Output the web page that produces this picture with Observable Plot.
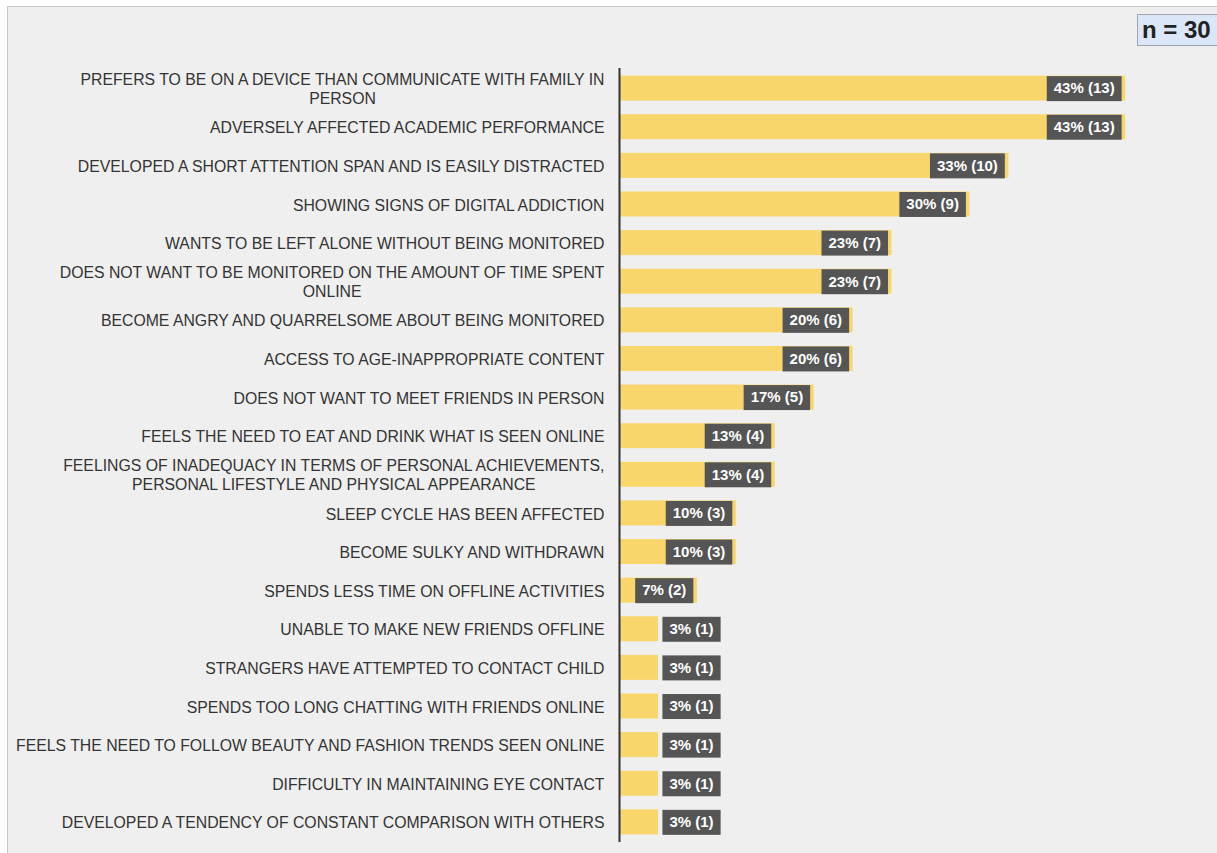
<!DOCTYPE html>
<html><head><meta charset="utf-8">
<script src="https://cdn.jsdelivr.net/npm/d3@7"></script>
<script src="https://cdn.jsdelivr.net/npm/@observablehq/plot@0.6"></script>
<style>
html,body{margin:0;padding:0;background:#fff;width:1217px;height:853px;overflow:hidden;font-family:"Liberation Sans",Arial,sans-serif;}
#panel{position:absolute;left:7px;top:6px;width:1210px;height:846px;background:#efefef;border-top:1px solid #c9c9c9;border-left:1px solid #c9c9c9;overflow:hidden;}
#nbox{position:absolute;left:1129px;top:7px;height:30px;width:100px;background:#dbe7f9;border:1px solid #9ea6b0;font-weight:bold;font-size:24px;line-height:30px;color:#222;padding-left:4px;box-sizing:content-box;}
#chart{position:absolute;left:0;top:0;}
</style>
</head><body>
<div id="panel"><div id="chart"></div><div id="nbox">n = 30</div></div>
<script>
const categories = [
  "PREFERS TO BE ON A DEVICE THAN COMMUNICATE WITH FAMILY IN\nPERSON",
  "ADVERSELY AFFECTED ACADEMIC PERFORMANCE",
  "DEVELOPED A SHORT ATTENTION SPAN AND IS EASILY DISTRACTED",
  "SHOWING SIGNS OF DIGITAL ADDICTION",
  "WANTS TO BE LEFT ALONE WITHOUT BEING MONITORED",
  "DOES NOT WANT TO BE MONITORED ON THE AMOUNT OF TIME SPENT\nONLINE",
  "BECOME ANGRY AND QUARRELSOME ABOUT BEING MONITORED",
  "ACCESS TO AGE-INAPPROPRIATE CONTENT",
  "DOES NOT WANT TO MEET FRIENDS IN PERSON",
  "FEELS THE NEED TO EAT AND DRINK WHAT IS SEEN ONLINE",
  "FEELINGS OF INADEQUACY IN TERMS OF PERSONAL ACHIEVEMENTS,\nPERSONAL LIFESTYLE AND PHYSICAL APPEARANCE",
  "SLEEP CYCLE HAS BEEN AFFECTED",
  "BECOME SULKY AND WITHDRAWN",
  "SPENDS LESS TIME ON OFFLINE ACTIVITIES",
  "UNABLE TO MAKE NEW FRIENDS OFFLINE",
  "STRANGERS HAVE ATTEMPTED TO CONTACT CHILD",
  "SPENDS TOO LONG CHATTING WITH FRIENDS ONLINE",
  "FEELS THE NEED TO FOLLOW BEAUTY AND FASHION TRENDS SEEN ONLINE",
  "DIFFICULTY IN MAINTAINING EYE CONTACT",
  "DEVELOPED A TENDENCY OF CONSTANT COMPARISON WITH OTHERS"
];
const counts = [13, 13, 10, 9, 7, 7, 6, 6, 5, 4, 4, 3, 3, 2, 1, 1, 1, 1, 1, 1];
const percents = [43, 43, 33, 30, 23, 23, 20, 20, 17, 13, 13, 10, 10, 7, 3, 3, 3, 3, 3, 3];

const data = categories.map((c, i) => ({cat: c, n: counts[i], label: `${percents[i]}% (${counts[i]})`}));

const plot = Plot.plot({
  width: 1210,
  height: 846,
  marginLeft: 611,
  marginRight: 15,
  marginTop: 55,
  marginBottom: 5,
  style: {background: "transparent", color: "#333", fontFamily: "'Liberation Sans', Arial, sans-serif", fontSize: "15.8px"},
  x: {domain: [0, 15], axis: null},
  y: {domain: categories, padding: 0.353, round: false, label: null},
  marks: [
    Plot.barX(data, {y: "cat", x: "n", fill: "#f9d66b"}),
    Plot.ruleX([0], {stroke: "#333", strokeWidth: 2, insetTop: 6, insetBottom: 6}),
    Plot.axisY({tickSize: 0, tickPadding: 15, label: null, fontSize: 15.8, fill: "#333", lineHeight: 1.2}),
    Plot.text(data.filter(d => d.n > 1), {y: "cat", x: "n", text: "label", textAnchor: "end", dx: -11, fill: "white", fontWeight: "bold", fontSize: 15}),
    Plot.text(data.filter(d => d.n <= 1), {y: "cat", x: "n", text: "label", textAnchor: "start", dx: 11, fill: "white", fontWeight: "bold", fontSize: 15})
  ]
});
document.getElementById("chart").appendChild(plot);

const NS = "http://www.w3.org/2000/svg";

// wrapped category labels: lines centred on each other, block right-aligned
plot.querySelectorAll("text").forEach(t => {
  const spans = Array.from(t.querySelectorAll("tspan"));
  if (spans.length < 2) return;
  const b0 = t.getBBox();
  const right = b0.x + b0.width;
  const W = Math.max(...spans.map(s => s.getComputedTextLength()));
  t.removeAttribute("dx");
  t.setAttribute("text-anchor", "middle");
  spans.forEach(s => s.setAttribute("x", right - W / 2));
  const b1 = t.getBBox();
  const shift = right - (b1.x + b1.width);
  spans.forEach(s => s.setAttribute("x", right - W / 2 + shift));
});

// dark boxes behind the value labels, sized from the rendered text
const bw = plot.scale("y").bandwidth;
Array.from(plot.querySelectorAll("g")).filter(g => g.getAttribute("fill") === "white").forEach(g => {
  const boxes = document.createElementNS(NS, "g");
  g.querySelectorAll("text").forEach(t => {
    const b = t.getBBox();
    const tm = t.getAttribute("transform") || "";
    const m = /translate\(([-\d.e]+),\s*([-\d.e]+)\)/.exec(tm);
    const tx = m ? +m[1] : 0, ty = m ? +m[2] : 0;
    const r = document.createElementNS(NS, "rect");
    r.setAttribute("x", tx + b.x - 7);
    r.setAttribute("width", b.width + 14);
    r.setAttribute("y", ty - bw / 2);
    r.setAttribute("height", bw);
    r.setAttribute("fill", "#555555");
    boxes.appendChild(r);
  });
  const tr = g.getAttribute("transform");
  if (tr) boxes.setAttribute("transform", tr);
  g.parentNode.insertBefore(boxes, g);
});
</script>
</body></html>
